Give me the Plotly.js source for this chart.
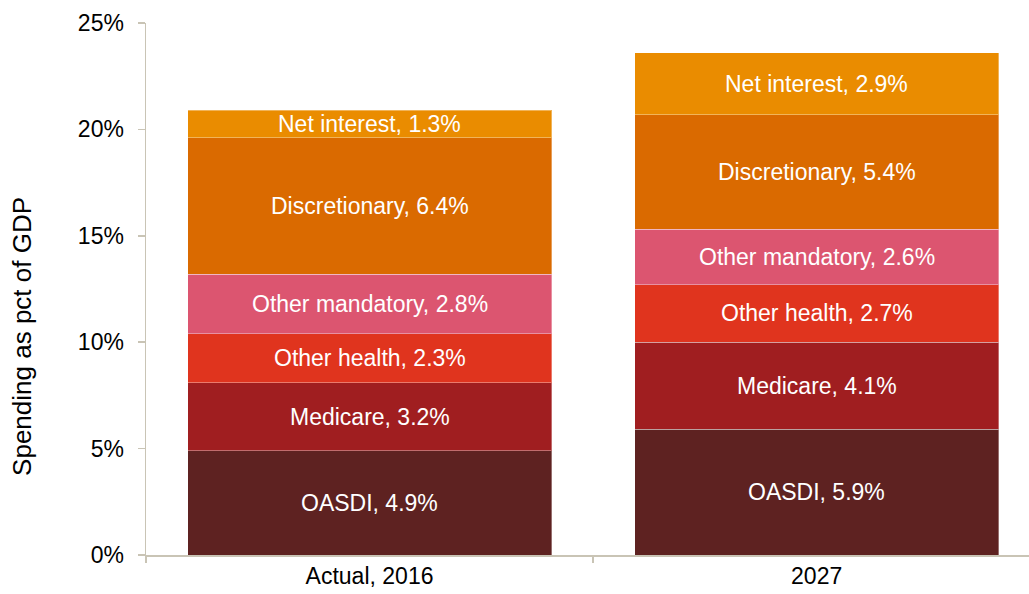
<!DOCTYPE html>
<html>
<head>
<meta charset="utf-8">
<script src="https://cdn.plot.ly/plotly-3.0.1.min.js"></script>
<style>html,body{margin:0;padding:0;background:#fff;}#chart{width:1029px;height:594px;}</style>
</head>
<body>
<div id="chart"></div>
<script>
const categories = ["Actual, 2016", "2027"];
const seriesNames = ["OASDI", "Medicare", "Other health", "Other mandatory", "Discretionary", "Net interest"];
const oasdi = [4.9, 5.9];
const medicare = [3.2, 4.1];
const otherHealth = [2.3, 2.7];
const otherMandatory = [2.8, 2.6];
const discretionary = [6.4, 5.4];
const netInterest = [1.3, 2.9];
const yTickVals = [0, 5, 10, 15, 20, 25];
const yTickText = ["0%", "5%", "10%", "15%", "20%", "25%"];
const yTitle = "Spending as pct of GDP";
const colors = ["#5E2221", "#A01E20", "#E0341E", "#DC5570", "#DA6A00", "#EA8C00"];

const FONT = "Liberation Sans, Arial, sans-serif";
const seriesValues = [oasdi, medicare, otherHealth, otherMandatory, discretionary, netInterest];
const traces = seriesValues.map((vals, i) => ({
  type: "bar",
  name: seriesNames[i],
  x: categories,
  y: vals,
  marker: {color: colors[i], line: {color: "rgba(255,255,255,0.35)", width: 1}},
  hoverinfo: "skip"
}));

const annotations = [];
categories.forEach((cat, c) => {
  let base = 0;
  seriesValues.forEach((vals, i) => {
    annotations.push({
      x: c, y: base + vals[c] / 2, xref: "x", yref: "y",
      text: seriesNames[i] + ", " + vals[c].toFixed(1) + "%",
      showarrow: false, xanchor: "center", yanchor: "middle",
      font: {family: FONT, size: 23, color: "#ffffff"}
    });
    base += vals[c];
  });
});
annotations.push({
  text: yTitle, xref: "paper", yref: "paper", x: -0.1404, y: 0.41,
  xanchor: "center", yanchor: "middle", textangle: -90, showarrow: false,
  font: {family: FONT, size: 26, color: "#000000"}
});

const layout = {
  width: 1029, height: 594,
  barmode: "stack",
  bargap: 0.186,
  showlegend: false,
  paper_bgcolor: "#ffffff",
  plot_bgcolor: "#ffffff",
  margin: {l: 146, r: 0, t: 23, b: 39, pad: 0},
  font: {family: FONT, color: "#000000", size: 23},
  annotations: annotations,
  xaxis: {
    type: "category",
    range: [-0.5, 1.475],
    showline: true, linecolor: "#C9C4B5", linewidth: 1.5,
    ticks: "outside", tickson: "boundaries", ticklen: 6, tickcolor: "#C9C4B5", tickwidth: 1.5,
    showgrid: false, zeroline: false,
    tickfont: {size: 23, color: "#000"},
    fixedrange: true
  },
  yaxis: {
    range: [0, 25],
    tickvals: yTickVals, ticktext: yTickText,
    showline: true, linecolor: "#C9C4B5", linewidth: 1.5,
    ticks: "outside", ticklen: 7, tickcolor: "#C9C4B5", tickwidth: 1.5,
    ticklabelstandoff: 9,
    showgrid: false, zeroline: false,
    tickfont: {size: 23, color: "#000"},
    fixedrange: true
  }
};

Plotly.newPlot("chart", traces, layout, {displayModeBar: false, staticPlot: true});
</script>
</body>
</html>
